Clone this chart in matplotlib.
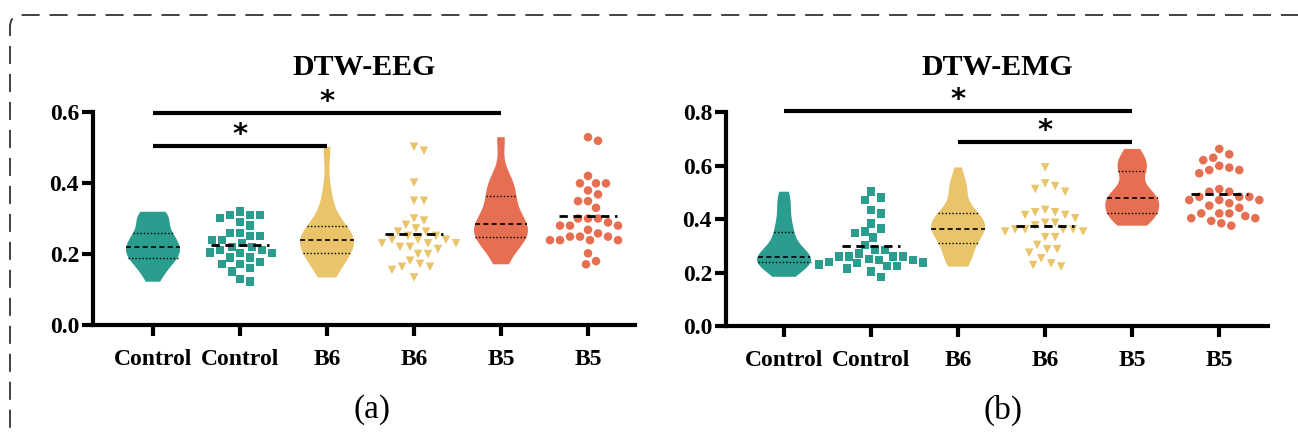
import numpy as np
import matplotlib.pyplot as plt
from matplotlib.patches import FancyBboxPatch
from matplotlib.transforms import IdentityTransform

# categories / labels
tick_labels = ['Control', 'Control', 'B6', 'B6', 'B5', 'B5']
colors = ['#2A9D8F', '#E9C46A', '#E76F51']
markers = ['s', 'v', 'o']

# DTW-EEG values
eeg_control = [0.319, 0.31, 0.31, 0.31, 0.301, 0.29, 0.28, 0.259, 0.259, 0.251,
               0.251, 0.239, 0.239, 0.231, 0.22, 0.22, 0.211, 0.211, 0.204, 0.203,
               0.203, 0.19, 0.19, 0.178, 0.172, 0.172, 0.16, 0.15, 0.13, 0.122]
eeg_b6 = [0.502, 0.491, 0.401, 0.35, 0.35, 0.30, 0.294, 0.282, 0.272, 0.263,
          0.263, 0.251, 0.251, 0.24, 0.24, 0.24, 0.23, 0.23, 0.23, 0.22,
          0.22, 0.214, 0.2, 0.2, 0.181, 0.172, 0.164, 0.164, 0.155, 0.134]
eeg_b5 = [0.529, 0.519, 0.42, 0.399, 0.399, 0.399, 0.379, 0.368, 0.349, 0.349,
          0.33, 0.30, 0.30, 0.30, 0.289, 0.28, 0.28, 0.28, 0.268, 0.258,
          0.249, 0.249, 0.249, 0.239, 0.239, 0.239, 0.239, 0.202, 0.18, 0.171]

# DTW-EMG values
emg_control = [0.502, 0.48, 0.471, 0.434, 0.421, 0.384, 0.365, 0.353, 0.347, 0.33,
               0.303, 0.284, 0.284, 0.272, 0.26, 0.259, 0.259, 0.259, 0.25, 0.247,
               0.247, 0.24, 0.238, 0.235, 0.23, 0.224, 0.224, 0.216, 0.203, 0.184]
emg_b6 = [0.593, 0.533, 0.523, 0.512, 0.502, 0.434, 0.425, 0.425, 0.415, 0.415,
          0.403, 0.386, 0.386, 0.376, 0.361, 0.361, 0.361, 0.361, 0.353, 0.353,
          0.332, 0.332, 0.303, 0.287, 0.287, 0.274, 0.253, 0.234, 0.228, 0.222]
emg_b5 = [0.662, 0.642, 0.629, 0.62, 0.599, 0.592, 0.583, 0.583, 0.571, 0.512,
          0.502, 0.502, 0.483, 0.483, 0.483, 0.471, 0.471, 0.471, 0.459, 0.45,
          0.442, 0.421, 0.421, 0.421, 0.411, 0.403, 0.403, 0.393, 0.384, 0.375]

# significance brackets: (from, to, bar height, star height)
eeg_sig = [(0, 4, 0.597, 0.627), (0, 2, 0.504, 0.534)]
emg_sig = [(0, 4, 0.805, 0.845), (2, 4, 0.689, 0.728)]

plt.rcParams['font.family'] = ['Liberation Serif', 'DejaVu Serif']
plt.rcParams['font.weight'] = 'bold'


def swarm(vals, x0, xpix, ypix, d=10.0, step=2.0):
    # beeswarm in pixel space: nearest free horizontal offset for each point
    vals = np.asarray(vals)
    placed = []
    xs = np.zeros(len(vals))
    for i in np.argsort(vals)[::-1]:
        y = vals[i] * ypix
        k = 0
        found = None
        while found is None:
            for c in ([0] if k == 0 else [k * step, -k * step]):
                if all((c - px) ** 2 + (y - py) ** 2 >= d * d for px, py in placed):
                    found = c
                    break
            k += 1
        placed.append((found, y))
        xs[i] = x0 + found / xpix
    return xs


def panel(ax, groups, ymax, title, sig, ypix):
    for gi, vals in enumerate(groups):
        col = colors[gi]
        xv, xs = 2 * gi, 2 * gi + 1
        vp = ax.violinplot([vals], positions=[xv], widths=0.62, showextrema=False,
                           bw_method=0.45)
        body = vp['bodies'][0]
        body.set_facecolor(col)
        body.set_edgecolor('none')
        body.set_alpha(1)
        v = body.get_paths()[0].vertices
        right = v[v[:, 0] >= xv]
        right = right[np.argsort(right[:, 1])]
        q1, med, q3 = np.percentile(vals, [25, 50, 75])
        for q, ls, lw in [(q1, (0, (1, 1.5)), 1.0), (med, (0, (3, 2)), 1.2), (q3, (0, (1, 1.5)), 1.0)]:
            hw = np.interp(q, right[:, 1], right[:, 0] - xv)
            ax.plot([xv - hw, xv + hw], [q, q], color='k', lw=lw, ls=ls, zorder=3)

        px = swarm(vals, xs, 87.0, ypix)
        ax.scatter(px, vals, marker=markers[gi], s=38, color=col, edgecolors='none', zorder=3)
        m = np.mean(vals)
        ax.plot([xs - 0.33, xs + 0.33], [m, m], color='k', lw=2, ls=(0, (3, 2)), zorder=4)

    for a, b, h, sh in sig:
        ax.plot([a, b], [h, h], color='k', lw=3, clip_on=False, solid_capstyle='butt')
        ax.text((a + b) / 2, sh, '*', ha='center', va='center', fontsize=21,
                fontweight='bold', family='DejaVu Sans')

    ax.set_ylim(0, ymax)
    ax.set_yticks(np.arange(0, ymax + 0.01, 0.2))
    ax.set_yticklabels([f'{t:.1f}' for t in np.arange(0, ymax + 0.01, 0.2)])
    ax.set_xticks(range(6))
    ax.set_xticklabels(tick_labels)
    ax.spines['top'].set_visible(False)
    ax.spines['right'].set_visible(False)
    ax.spines['left'].set_linewidth(3)
    ax.spines['bottom'].set_linewidth(3)
    ax.tick_params(width=3, length=8, labelsize=17)
    ax.tick_params(axis='x', pad=9)
    ax.tick_params(axis='y', pad=2)
    ax.set_title(title, fontsize=21.5, fontweight='bold', pad=27)


fig = plt.figure(figsize=(12.98, 4.37), dpi=100)
ax1 = fig.add_axes([0.0716, 0.2563, 0.4176, 0.4874])
ax2 = fig.add_axes([0.5593, 0.2540, 0.4176, 0.4897])

panel(ax1, [eeg_control, eeg_b6, eeg_b5], 0.6, 'DTW-EEG', eeg_sig, 355.0)
panel(ax2, [emg_control, emg_b6, emg_b5], 0.8, 'DTW-EMG', emg_sig, 267.5)
ax1.set_xlim(-0.69, 5.54)
ax2.set_xlim(-0.667, 5.56)

fig.text(0.2866, 0.062, '(a)', ha='center', va='center', fontsize=24, fontweight='normal')
fig.text(0.7728, 0.062, '(b)', ha='center', va='center', fontsize=24, fontweight='normal')

# dashed frame around the figure (runs past the right and bottom edges)
frame = FancyBboxPatch((10, -60), 1360, 437 - 15 + 60,
                       boxstyle='round,pad=0,rounding_size=12',
                       transform=IdentityTransform(), fill=False,
                       edgecolor='#333333', lw=1.3, ls=(0, (10, 5.5)))
fig.patches.append(frame)

fig.savefig('out.png', dpi=100)
